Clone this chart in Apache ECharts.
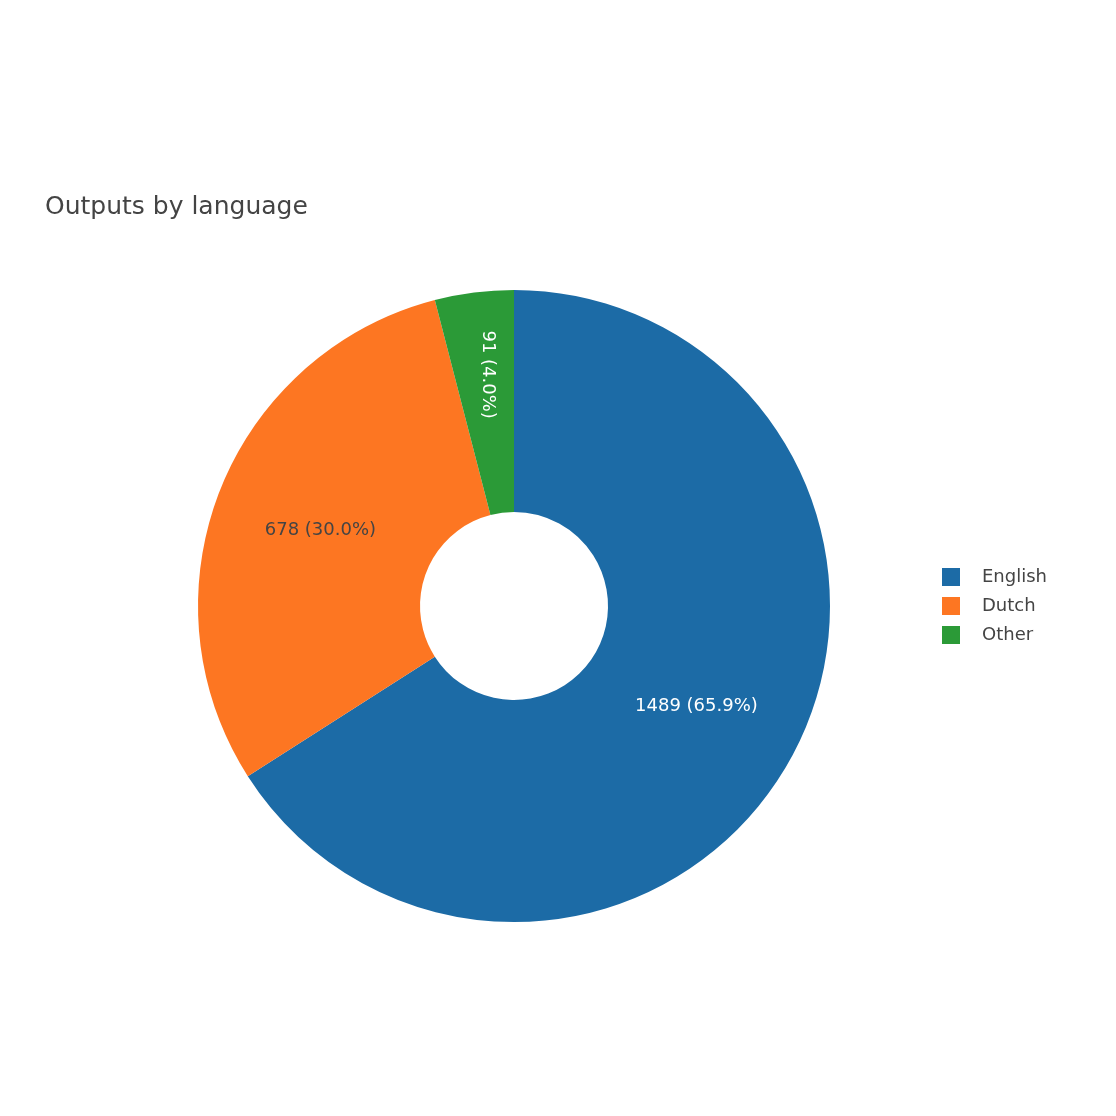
<!DOCTYPE html>
<html>
<head>
<meta charset="utf-8">
<script src="https://cdn.jsdelivr.net/npm/echarts@6/dist/echarts.min.js"></script>
<style>
html, body { margin: 0; padding: 0; background: #fff; }
#main { width: 1116px; height: 1116px; }
</style>
</head>
<body>
<div id="main"></div>
<script>
// data
var languages = ['English', 'Dutch', 'Other'];
var counts = [1489, 678, 91];
var colors = ['#1c6ba6', '#fd7622', '#2b9a37'];
var labelColors = ['#ffffff', '#444444', '#ffffff'];

var total = counts.reduce(function (a, b) { return a + b; }, 0);

var myChart = echarts.init(document.getElementById('main'));

var pieData = languages.map(function (name, i) {
    var item = {
        name: name,
        value: counts[i],
        itemStyle: { color: colors[i] },
        label: { color: labelColors[i] }
    };
    if (name === 'Other') {
        item.label.rotate = -90;   // plotly turned this one radial
        item.label.padding = [0, 50, 0, 0];  // nudge it toward the rim
    }
    return item;
});

var option = {
    backgroundColor: '#ffffff',
    animation: false,
    title: {
        text: 'Outputs by language',
        left: 40,
        top: 190,
        textStyle: {
            fontFamily: 'DejaVu Sans',
            fontSize: 25,
            fontWeight: 'normal',
            color: '#444'
        }
    },
    legend: {
        orient: 'vertical',
        left: 942,
        top: 568,
        padding: 0,
        itemWidth: 18,
        itemHeight: 18,
        itemGap: 11,
        icon: 'rect',
        data: languages,
        textStyle: {
            fontFamily: 'DejaVu Sans',
            fontSize: 18,
            color: '#444',
            padding: [0, 0, 0, 17]
        }
    },
    series: [{
        type: 'pie',
        center: [514, 606],
        radius: [94, 316],
        startAngle: 90,
        clockwise: true,
        label: {
            show: true,
            position: 'inside',
            formatter: function (p) {
                return p.value + ' (' + (p.value / total * 100).toFixed(1) + '%)';
            },
            fontFamily: 'DejaVu Sans',
            fontSize: 18
        },
        labelLine: { show: false },
        emphasis: { disabled: true },
        data: pieData
    }]
};

myChart.setOption(option);
</script>
</body>
</html>
